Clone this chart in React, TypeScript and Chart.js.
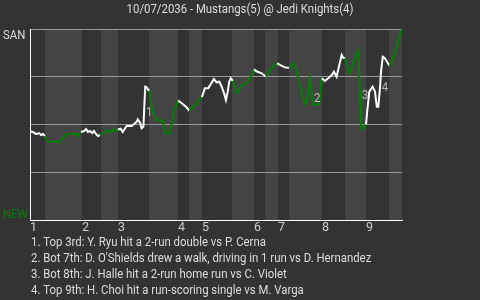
import React, { useEffect, useRef } from "react";
import { Chart, registerables } from "chart.js";

Chart.register(...registerables);

const TITLE = "10/07/2036 - Mustangs(5) @ Jedi Knights(4)";
const TOP_TEAM = "SAN";
const BOTTOM_TEAM = "NEW";

const INNING_LABELS = ["1", "2", "3", "4", "5", "6", "7", "8", "9"];
const INNING_STARTS = [0, 17.3, 29.3, 49.3, 57.3, 74.7, 82.7, 97.3, 112];
const HALF_BOUNDS = [0, 5, 17.3, 23.7, 29.3, 39.7, 49.3, 53, 57.3, 67.3, 74.7, 78.3, 82.7, 86.3, 97.3, 105, 112, 119.7, 124];

const PLAY_X = [0, 1, 1.7, 2.3, 3, 3.7, 4.3, 5, 6, 9.7, 11.3, 12.3, 15.3, 16, 17, 18, 18.7, 19.3, 20, 20.7, 21.3, 22, 22.7, 23.3, 24.7, 25.7, 26.7, 27.7, 28.7, 29.3, 30.2, 30.9, 32.2, 33.9, 35.6, 35.9, 36.7, 37.2, 37.8, 38.1, 38.4, 38.9, 39.4, 39.8, 40.3, 41.1, 42.2, 43.3, 44.1, 44.7, 45.2, 46.7, 47.2, 48, 48.7, 49.4, 50.6, 52, 53.1, 54.4, 55.8, 56.3, 57.3, 58.3, 59.4, 60.2, 61.3, 62.2, 63.1, 63.9, 64.7, 65.3, 65.9, 66.4, 66.9, 67.6, 68.2, 69.1, 70, 70.9, 72.2, 73.3, 73.9, 74.7, 75.3, 77.2, 78.7, 79.4, 80.6, 81.7, 82.4, 83.3, 85, 86.4, 87.8, 88.7, 90, 91.1, 92, 92.8, 93.3, 93.9, 94.4, 95.6, 96.4, 97.3, 98.3, 99.4, 100.6, 101.3, 102.2, 103.1, 103.9, 104.4, 105, 105.6, 106.4, 107.2, 108, 108.9, 109.4, 110, 110.3, 110.6, 111.3, 112, 112.4, 113.1, 114.2, 115, 115.6, 116.1, 116.7, 117, 117.6, 118.3, 119.8, 120.6, 121.7, 122.8, 123.7, 124];
const WIN_PCT = [46.3, 46.1, 45.3, 45.0, 45.5, 44.5, 45.0, 44.0, 41.1, 40.8, 43.5, 45.0, 45.0, 44.0, 46.1, 46.6, 47.6, 46.1, 46.6, 45.5, 46.6, 45.0, 44.0, 44.5, 45.8, 46.9, 45.8, 47.4, 46.6, 47.4, 47.8, 46.1, 49.2, 49.2, 51.5, 52.7, 50.9, 48.0, 48.8, 59.3, 69.8, 69.5, 68.1, 67.7, 61.1, 55.9, 52.4, 52.0, 52.4, 48.0, 45.4, 45.4, 50.6, 57.6, 59.3, 62.5, 61.1, 59.3, 57.2, 59.3, 61.8, 62.8, 64.4, 69.0, 69.0, 71.0, 73.8, 72.1, 72.4, 69.8, 66.3, 62.8, 67.2, 72.4, 74.2, 72.8, 69.8, 66.6, 69.0, 71.0, 71.6, 74.2, 75.9, 78.9, 78.0, 76.8, 75.0, 77.3, 79.7, 81.2, 82.0, 81.2, 79.9, 79.7, 82.0, 79.4, 69.8, 63.7, 60.7, 67.2, 73.8, 67.2, 60.6, 60.2, 60.6, 74.2, 72.8, 74.2, 75.9, 77.6, 75.0, 81.2, 86.4, 85.0, 84.7, 81.2, 76.8, 79.4, 83.8, 87.3, 89.0, 67.2, 50.6, 47.6, 48.3, 50.1, 56.7, 67.2, 69.8, 67.2, 59.3, 59.3, 69.8, 77.6, 85.5, 84.7, 80.8, 82.9, 88.1, 94.2, 98.6, 100];

const NOTE_NUMS = ["1", "2", "3", "4"];
const NOTE_X = [39.7, 95.7, 111.7, 118.3];
const NOTE_Y = [56.0, 63.4, 64.9, 69.1];
const NOTES = [
  "1. Top 3rd: Y. Ryu hit a 2-run double vs P. Cerna",
  "2. Bot 7th: D. O'Shields drew a walk, driving in 1 run vs D. Hernandez",
  "3. Bot 8th: J. Halle hit a 2-run home run vs C. Violet",
  "4. Top 9th: H. Choi hit a run-scoring single vs M. Varga",
];

const FONT = "Roboto, 'DejaVu Sans', sans-serif";
const CONDENSE = 0.91;
const BG = "#333333";
const BAND_LIGHT = "#444444";
const WHITE = "#ffffff";
const GREEN = "#008000";
const TEXT = "#dddddd";

function halfIndex(x: number) {
  let i = 0;
  while (i < HALF_BOUNDS.length - 2 && x >= HALF_BOUNDS[i + 1]) i++;
  return i;
}

function narrowText(ctx: CanvasRenderingContext2D, text: string, x: number, y: number) {
  ctx.save();
  ctx.translate(x, y);
  ctx.scale(CONDENSE, 1);
  ctx.fillText(text, 0, 0);
  ctx.restore();
}

export default function App() {
  const ref = useRef<HTMLCanvasElement | null>(null);
  useEffect(() => {
    const canvas = ref.current;
    if (!canvas) return;
    const decor = {
      id: "decor",
      beforeDraw(chart: any) {
        const { ctx, chartArea, scales } = chart;
        const xs = scales.x;
        ctx.save();
        ctx.fillStyle = BG;
        ctx.fillRect(0, 0, chart.width, chart.height);
        for (let i = 0; i < HALF_BOUNDS.length - 1; i++) {
          if (i % 2 === 1) {
            const a = xs.getPixelForValue(HALF_BOUNDS[i]);
            const b = xs.getPixelForValue(HALF_BOUNDS[i + 1]);
            ctx.fillStyle = BAND_LIGHT;
            ctx.fillRect(a, chartArea.top, b - a, chartArea.bottom - chartArea.top);
          }
        }
        ctx.restore();
      },
      afterDraw(chart: any) {
        const { ctx, chartArea, scales } = chart;
        ctx.save();
        ctx.font = `12.5px ${FONT}`;
        ctx.fillStyle = TEXT;
        ctx.textBaseline = "alphabetic";
        ctx.textAlign = "center";
        narrowText(ctx, TITLE, chart.width / 2, 12.5);
        ctx.textAlign = "left";
        narrowText(ctx, TOP_TEAM, 3, chartArea.top + 9.5);
        ctx.fillStyle = GREEN;
        narrowText(ctx, BOTTOM_TEAM, 3, chartArea.bottom - 2.5);
        ctx.fillStyle = "#bbbbbb";
        ctx.textAlign = "center";
        ctx.textBaseline = "middle";
        for (let i = 0; i < NOTE_NUMS.length; i++) {
          narrowText(ctx, NOTE_NUMS[i], scales.x.getPixelForValue(NOTE_X[i]), scales.y.getPixelForValue(NOTE_Y[i]));
        }
        ctx.fillStyle = TEXT;
        ctx.textAlign = "left";
        ctx.textBaseline = "alphabetic";
        for (let i = 0; i < NOTES.length; i++) {
          narrowText(ctx, NOTES[i], 31, chartArea.bottom + 26 + i * 16);
        }
        ctx.restore();
      },
    };
    const chart = new Chart(canvas, {
      type: "line",
      data: {
        datasets: [
          {
            data: PLAY_X.map((x, i) => ({ x, y: WIN_PCT[i] })),
            borderWidth: 2,
            pointRadius: 0,
            tension: 0,
            borderColor: WHITE,
            segment: {
              borderColor: (c: any) => {
                const mid = (c.p0.parsed.x + c.p1.parsed.x) / 2;
                return halfIndex(mid) % 2 === 0 ? WHITE : GREEN;
              },
            },
          },
        ],
      },
      options: {
        responsive: false,
        animation: false,
        events: [],
        layout: { padding: { top: 29, right: 78, left: 0, bottom: 0 } },
        plugins: { legend: { display: false }, tooltip: { enabled: false }, title: { display: false } },
        scales: {
          x: {
            type: "linear",
            min: 0,
            max: 124,
            grid: { display: false, drawTicks: false },
            border: { display: true, color: WHITE, width: 1 },
            afterBuildTicks: (s: any) => {
              s.ticks = INNING_STARTS.map((v) => ({ value: v }));
            },
            afterFit: (s: any) => {
              s.height = 80;
            },
            ticks: {
              align: "start",
              autoSkip: false,
              maxRotation: 0,
              padding: 0,
              color: "#cccccc",
              font: { family: FONT, size: 12.5 },
              callback: (_v: any, i: number) => INNING_LABELS[i],
            },
          },
          y: {
            min: 0,
            max: 100,
            grid: { color: "#999999", drawTicks: false, lineWidth: 1 },
            border: { display: true, color: WHITE, width: 1 },
            afterBuildTicks: (s: any) => {
              s.ticks = [0, 25, 50, 75, 100].map((v) => ({ value: v }));
            },
            afterFit: (s: any) => {
              s.width = 30;
            },
            ticks: { display: false },
          },
        },
      },
      plugins: [decor],
    } as any);
    return () => chart.destroy();
  }, []);
  return (
    <div style={{ position: "fixed", left: 0, top: 0, width: 480, height: 300, background: BG }}>
      <canvas ref={ref} width={480} height={300} style={{ display: "block" }} />
    </div>
  );
}
